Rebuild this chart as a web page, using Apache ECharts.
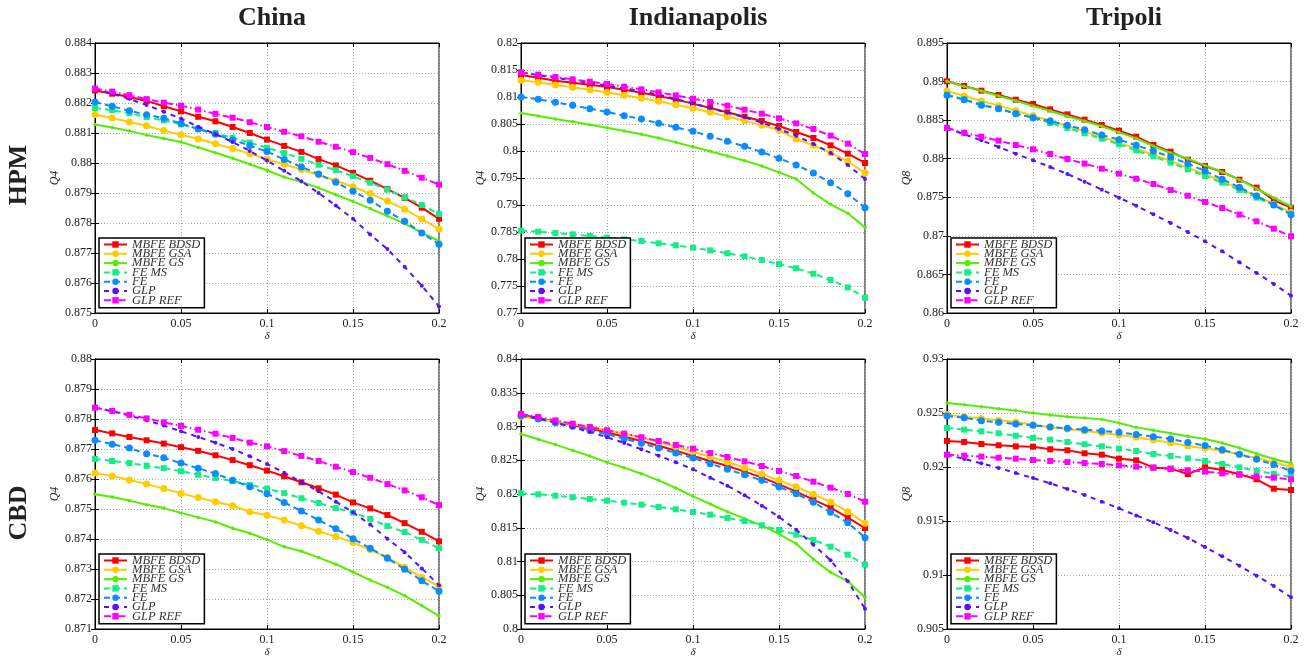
<!DOCTYPE html>
<html>
<head>
<meta charset="utf-8">
<script src="https://cdn.jsdelivr.net/npm/echarts@6/dist/echarts.min.js"></script>
<style>
  html, body { margin: 0; padding: 0; background: #fff; }
  #main { width: 1308px; height: 660px; }
</style>
</head>
<body>
<div id="main"></div>
<script>
// delta values on the x axis
var delta = [0, 0.01, 0.02, 0.03, 0.04, 0.05, 0.06, 0.07, 0.08, 0.09, 0.1,
             0.11, 0.12, 0.13, 0.14, 0.15, 0.16, 0.17, 0.18, 0.19, 0.2];

var methods = ['MBFE BDSD', 'MBFE GSA', 'MBFE GS', 'FE MS', 'FE', 'GLP', 'GLP REF'];
var columns = ['China', 'Indianapolis', 'Tripoli'];
var rowLabels = ['HPM', 'CBD'];
var yNames = ['Q4', 'Q4', 'Q8', 'Q4', 'Q4', 'Q8'];

// y axis ranges [min, max, interval]
var yRanges = [
  [0.875, 0.884, 0.001],
  [0.77, 0.82, 0.005],
  [0.86, 0.895, 0.005],
  [0.871, 0.88, 0.001],
  [0.8, 0.84, 0.005],
  [0.905, 0.93, 0.005]
];

// one row per method, same order as methods
var chinaHpm = [
  [0.88242, 0.88231, 0.8822, 0.88207, 0.88189, 0.88172, 0.88154, 0.88139, 0.8812, 0.8810, 0.88078, 0.88057, 0.88037, 0.88013, 0.87992, 0.87967, 0.87941, 0.87913, 0.87884, 0.87851, 0.87814],
  [0.88162, 0.8815, 0.88137, 0.88124, 0.88108, 0.88094, 0.8808, 0.88064, 0.88048, 0.88031, 0.88013, 0.87996, 0.87978, 0.8796, 0.87941, 0.87921, 0.87898, 0.87873, 0.87846, 0.87813, 0.8778],
  [0.88128, 0.88118, 0.88107, 0.88093, 0.88082, 0.8807, 0.88052, 0.88034, 0.88016, 0.87996, 0.87976, 0.87953, 0.87937, 0.87917, 0.87894, 0.87872, 0.87848, 0.87823, 0.87798, 0.87768, 0.8774],
  [0.88183, 0.88176, 0.88166, 0.88153, 0.88142, 0.88129, 0.88114, 0.881, 0.88084, 0.88068, 0.88051, 0.88033, 0.88014, 0.87994, 0.87976, 0.87956, 0.87934, 0.87911, 0.87886, 0.8786, 0.8783],
  [0.88203, 0.88189, 0.88174, 0.88161, 0.88149, 0.88132, 0.88113, 0.88096, 0.88077, 0.88058, 0.88038, 0.88012, 0.87987, 0.87963, 0.87936, 0.87906, 0.87876, 0.87839, 0.87806, 0.87767, 0.87729],
  [0.88248, 0.88231, 0.88214, 0.88193, 0.88171, 0.88148, 0.88121, 0.88096, 0.8807, 0.8804, 0.88008, 0.87974, 0.87939, 0.879, 0.87858, 0.87814, 0.87762, 0.87713, 0.87654, 0.87591, 0.87522],
  [0.88248, 0.88238, 0.88226, 0.88213, 0.88201, 0.88191, 0.88178, 0.88164, 0.88151, 0.88136, 0.8812, 0.88104, 0.88089, 0.88071, 0.88054, 0.88036, 0.88017, 0.87996, 0.87974, 0.87951, 0.87928]
];

var indyHpm = [
  [0.81407, 0.81358, 0.81302, 0.81265, 0.81228, 0.81185, 0.81136, 0.8108, 0.81019, 0.80951, 0.80877, 0.80796, 0.80716, 0.80636, 0.80556, 0.80463, 0.80352, 0.80241, 0.80105, 0.79951, 0.79778],
  [0.81309, 0.81272, 0.81222, 0.81179, 0.81136, 0.81086, 0.81031, 0.80975, 0.8092, 0.80858, 0.8079, 0.80716, 0.80636, 0.80562, 0.80475, 0.80383, 0.80222, 0.80105, 0.79969, 0.79809, 0.79593],
  [0.80704, 0.80648, 0.80593, 0.80543, 0.80488, 0.80432, 0.8037, 0.80309, 0.80241, 0.8016, 0.8008, 0.79994, 0.79907, 0.79821, 0.79722, 0.79605, 0.79481, 0.79222, 0.79012, 0.78846, 0.78586],
  [0.78525, 0.78506, 0.78481, 0.78457, 0.78426, 0.78395, 0.78364, 0.78333, 0.7829, 0.78253, 0.7821, 0.7816, 0.78105, 0.78049, 0.77981, 0.77907, 0.77827, 0.77728, 0.77611, 0.77475, 0.77284],
  [0.81, 0.80957, 0.80901, 0.80846, 0.80784, 0.80722, 0.80654, 0.80593, 0.80512, 0.80438, 0.80364, 0.80272, 0.80179, 0.80086, 0.79981, 0.79864, 0.79741, 0.79593, 0.79414, 0.7921, 0.78951],
  [0.81451, 0.81407, 0.81358, 0.81309, 0.81259, 0.8121, 0.8116, 0.81105, 0.81043, 0.80963, 0.80883, 0.80796, 0.8071, 0.80623, 0.80525, 0.80407, 0.80284, 0.8013, 0.79963, 0.79741, 0.79481],
  [0.81457, 0.81414, 0.8137, 0.81327, 0.81284, 0.81241, 0.81191, 0.81142, 0.81086, 0.81031, 0.80969, 0.80907, 0.8084, 0.80765, 0.80691, 0.80605, 0.80512, 0.80407, 0.80284, 0.80136, 0.79944]
];

var tripoliHpm = [
  [0.89003, 0.88943, 0.88882, 0.88826, 0.88765, 0.88709, 0.8864, 0.88575, 0.88506, 0.88437, 0.88364, 0.88286, 0.88178, 0.88091, 0.87988, 0.87906, 0.87828, 0.87728, 0.87625, 0.87461, 0.87365],
  [0.88878, 0.88813, 0.88748, 0.88688, 0.88623, 0.88558, 0.88493, 0.88424, 0.88355, 0.88281, 0.88208, 0.8813, 0.88052, 0.8797, 0.87884, 0.87798, 0.87707, 0.87612, 0.87517, 0.87409, 0.87305],
  [0.89003, 0.88938, 0.88878, 0.88813, 0.88752, 0.88683, 0.88619, 0.8855, 0.88489, 0.8842, 0.88342, 0.88264, 0.88165, 0.88074, 0.88001, 0.87914, 0.87828, 0.87728, 0.87612, 0.87495, 0.87383],
  [0.8883, 0.8877, 0.88705, 0.88649, 0.88588, 0.88532, 0.88463, 0.88398, 0.88329, 0.8826, 0.88186, 0.88109, 0.88031, 0.87949, 0.87863, 0.87776, 0.8769, 0.87594, 0.87495, 0.874, 0.87288],
  [0.88822, 0.88765, 0.88692, 0.88649, 0.88584, 0.88532, 0.88489, 0.88433, 0.88377, 0.88307, 0.88247, 0.88173, 0.881, 0.88022, 0.87936, 0.87841, 0.87733, 0.87629, 0.87517, 0.874, 0.87275],
  [0.88398, 0.88316, 0.88238, 0.88152, 0.88065, 0.87979, 0.87893, 0.87802, 0.87702, 0.87599, 0.87495, 0.87391, 0.87279, 0.87167, 0.8705, 0.86929, 0.86799, 0.86657, 0.86519, 0.86376, 0.86225],
  [0.88398, 0.88338, 0.88286, 0.88234, 0.88178, 0.88122, 0.88061, 0.87996, 0.87936, 0.87871, 0.87806, 0.87741, 0.87672, 0.87594, 0.8752, 0.87439, 0.87361, 0.87275, 0.87188, 0.87093, 0.86994]
];

var chinaCbd = [
  [0.87763, 0.87752, 0.8774, 0.87729, 0.87718, 0.87706, 0.87694, 0.87679, 0.87663, 0.87646, 0.87628, 0.87609, 0.87589, 0.87569, 0.87548, 0.87522, 0.87502, 0.8748, 0.87453, 0.87424, 0.87392],
  [0.8762, 0.8761, 0.87597, 0.87583, 0.87568, 0.87552, 0.87538, 0.87524, 0.87511, 0.87491, 0.87479, 0.87463, 0.87444, 0.87426, 0.87408, 0.87388, 0.87364, 0.87339, 0.87306, 0.87272, 0.87242],
  [0.87549, 0.8754, 0.87528, 0.87514, 0.87503, 0.87487, 0.87472, 0.87457, 0.87436, 0.87419, 0.87398, 0.87374, 0.87359, 0.87338, 0.87316, 0.8729, 0.87263, 0.87239, 0.87211, 0.87178, 0.87143],
  [0.87667, 0.8766, 0.87653, 0.87644, 0.87636, 0.87626, 0.87614, 0.87603, 0.87593, 0.8758, 0.87568, 0.87553, 0.87536, 0.8752, 0.87503, 0.87488, 0.87467, 0.87443, 0.87423, 0.87397, 0.87369],
  [0.87729, 0.87716, 0.87703, 0.87684, 0.87671, 0.87653, 0.87636, 0.87618, 0.87596, 0.87574, 0.87551, 0.87522, 0.87493, 0.87463, 0.87434, 0.87401, 0.87369, 0.87336, 0.87299, 0.87261, 0.87226],
  [0.87838, 0.87826, 0.87811, 0.87796, 0.87778, 0.87759, 0.8774, 0.87721, 0.877, 0.87676, 0.8765, 0.87621, 0.8759, 0.87559, 0.87524, 0.87489, 0.87448, 0.87401, 0.87356, 0.87302, 0.87246],
  [0.87838, 0.87827, 0.87814, 0.87802, 0.87789, 0.87777, 0.87764, 0.87751, 0.87737, 0.87721, 0.87709, 0.87693, 0.87677, 0.8766, 0.87641, 0.87623, 0.87604, 0.87583, 0.87562, 0.87539, 0.87513]
];

var indyCbd = [
  [0.83175, 0.83126, 0.83072, 0.83017, 0.82968, 0.82914, 0.82849, 0.82785, 0.82716, 0.82642, 0.82563, 0.82489, 0.82415, 0.82331, 0.82247, 0.82143, 0.82035, 0.81916, 0.81798, 0.8165, 0.81496],
  [0.83146, 0.83116, 0.83072, 0.83032, 0.82988, 0.82943, 0.82894, 0.82835, 0.8277, 0.82701, 0.82627, 0.82553, 0.82474, 0.8239, 0.82296, 0.82202, 0.82109, 0.81995, 0.81881, 0.81738, 0.81565],
  [0.82889, 0.8281, 0.82731, 0.82647, 0.82563, 0.82469, 0.8239, 0.82301, 0.82202, 0.82089, 0.81965, 0.81852, 0.81738, 0.81635, 0.81536, 0.81407, 0.81264, 0.81032, 0.8084, 0.80706, 0.80469],
  [0.8201, 0.81995, 0.81975, 0.81951, 0.81926, 0.81901, 0.81872, 0.81842, 0.81807, 0.81773, 0.81733, 0.81694, 0.81644, 0.816, 0.81536, 0.81467, 0.81398, 0.81319, 0.8122, 0.81101, 0.80953],
  [0.8316, 0.83111, 0.83057, 0.83002, 0.82943, 0.82884, 0.8282, 0.82751, 0.82681, 0.82607, 0.82533, 0.82449, 0.82365, 0.82286, 0.82202, 0.82104, 0.82005, 0.81877, 0.81728, 0.81575, 0.81353],
  [0.83175, 0.83121, 0.83057, 0.82988, 0.82919, 0.8284, 0.82756, 0.82662, 0.82568, 0.82469, 0.82365, 0.82242, 0.82123, 0.8198, 0.81827, 0.81659, 0.81472, 0.81249, 0.81017, 0.80706, 0.80301],
  [0.83185, 0.83141, 0.83091, 0.83042, 0.82993, 0.82943, 0.82894, 0.8284, 0.82785, 0.82726, 0.82672, 0.82607, 0.82548, 0.82484, 0.82415, 0.82341, 0.82267, 0.82183, 0.82094, 0.82, 0.81886]
];

var tripoliCbd = [
  [0.92241, 0.92231, 0.92213, 0.92201, 0.92191, 0.92188, 0.92164, 0.92154, 0.92127, 0.92114, 0.92077, 0.92062, 0.91994, 0.91985, 0.91935, 0.91997, 0.91972, 0.91932, 0.91886, 0.91799, 0.91787],
  [0.92485, 0.92466, 0.92448, 0.92432, 0.92417, 0.92392, 0.9237, 0.92352, 0.92333, 0.92315, 0.92296, 0.92275, 0.9225, 0.92225, 0.92194, 0.92173, 0.92148, 0.92117, 0.92083, 0.92043, 0.92003],
  [0.92593, 0.92577, 0.92559, 0.9254, 0.92522, 0.925, 0.92481, 0.92466, 0.92454, 0.92441, 0.92407, 0.92367, 0.9234, 0.92312, 0.92284, 0.92259, 0.92222, 0.92176, 0.92123, 0.92074, 0.92034],
  [0.92361, 0.92346, 0.9233, 0.92312, 0.9229, 0.92269, 0.92253, 0.92231, 0.9221, 0.92191, 0.9217, 0.92148, 0.9212, 0.92102, 0.9208, 0.92056, 0.92028, 0.91997, 0.91966, 0.91935, 0.91907],
  [0.92472, 0.92457, 0.92429, 0.92414, 0.92398, 0.92386, 0.9237, 0.92358, 0.92346, 0.92333, 0.92321, 0.92302, 0.92281, 0.92259, 0.92228, 0.92198, 0.9216, 0.92117, 0.92071, 0.92022, 0.91963],
  [0.92114, 0.92074, 0.92034, 0.91991, 0.91944, 0.91898, 0.91849, 0.91796, 0.91741, 0.91679, 0.91617, 0.91552, 0.91488, 0.91417, 0.91343, 0.91259, 0.91173, 0.91086, 0.90994, 0.90898, 0.90793],
  [0.92114, 0.92105, 0.92096, 0.92086, 0.92077, 0.92065, 0.92056, 0.92046, 0.92037, 0.92028, 0.92015, 0.92003, 0.91994, 0.91981, 0.91969, 0.91957, 0.91941, 0.91929, 0.91914, 0.91901, 0.91886]
];

var panels = [chinaHpm, indyHpm, tripoliHpm, chinaCbd, indyCbd, tripoliCbd];

// line style per method
var styles = [
  { color: '#ff0000', type: 'solid',        symbol: 'rect',   size: 6 },
  { color: '#ffcc00', type: 'solid',        symbol: 'circle', size: 7 },
  { color: '#55ee00', type: 'solid',        symbol: 'circle', size: 3.5 },
  { color: '#11ee88', type: [6, 4],         symbol: 'rect',   size: 6 },
  { color: '#0a8cff', type: [6, 4],         symbol: 'circle', size: 7 },
  { color: '#5511ff', type: [5, 5],         symbol: 'circle', size: 4 },
  { color: '#ff00ff', type: [7, 3, 1.5, 3], symbol: 'rect',   size: 6 }
];

(function () {
  var serif = 'Liberation Serif';
  var gridLefts = [95, 521, 947];
  var gridTops = [43, 359];
  var gridW = 344, gridH = 270;

  function fmt(v) {
    return String(parseFloat(v.toFixed(4)));
  }

  var myChart = echarts.init(document.getElementById('main'));

  var option = {
    animation: false,
    backgroundColor: '#fff',
    title: [],
    grid: [],
    xAxis: [],
    yAxis: [],
    legend: [],
    series: []
  };

  // column titles
  for (var c = 0; c < 3; c++) {
    option.title.push({
      text: columns[c],
      left: gridLefts[c] + gridW / 2,
      top: 0,
      textAlign: 'center',
      textStyle: { fontFamily: serif, fontSize: 26, fontWeight: 'bold', color: '#222' }
    });
  }

  for (var p = 0; p < 6; p++) {
    var gl = gridLefts[p % 3], gt = gridTops[Math.floor(p / 3)];
    var r = yRanges[p];

    option.grid.push({
      left: gl, top: gt, width: gridW, height: gridH,
      show: true, borderColor: '#000', borderWidth: 1, backgroundColor: '#fff'
    });

    // bottom x axis
    option.xAxis.push({
      type: 'value', gridIndex: p, min: 0, max: 0.2, interval: 0.05,
      name: 'δ', nameLocation: 'middle', nameGap: 16,
      nameTextStyle: { fontFamily: serif, fontStyle: 'italic', fontSize: 11, color: '#222' },
      axisLine: { show: true, lineStyle: { color: '#000', width: 1 } },
      axisTick: { show: true, inside: true, length: 4, lineStyle: { color: '#000' } },
      axisLabel: { fontFamily: serif, fontSize: 12, color: '#222', margin: 5, formatter: fmt },
      splitLine: { show: true, lineStyle: { color: '#aaa', type: [1, 2], width: 1 } }
    });
    // top x axis, ticks only
    option.xAxis.push({
      type: 'value', gridIndex: p, min: 0, max: 0.2, interval: 0.05, position: 'top',
      axisLine: { show: true, lineStyle: { color: '#000', width: 1 } },
      axisTick: { show: true, inside: true, length: 4, lineStyle: { color: '#000' } },
      axisLabel: { show: false },
      splitLine: { show: false }
    });
    // left y axis
    option.yAxis.push({
      type: 'value', gridIndex: p, min: r[0], max: r[1], interval: r[2],
      name: yNames[p], nameLocation: 'middle', nameGap: 31, nameRotate: 90,
      nameTextStyle: { fontFamily: serif, fontStyle: 'italic', fontSize: 12, color: '#222' },
      axisLine: { show: true, lineStyle: { color: '#000', width: 1 } },
      axisTick: { show: true, inside: true, length: 4, lineStyle: { color: '#000' } },
      axisLabel: { fontFamily: serif, fontSize: 12, color: '#222', margin: 3, formatter: fmt },
      splitLine: { show: true, lineStyle: { color: '#aaa', type: [1, 2], width: 1 } }
    });
    // right y axis, ticks only
    option.yAxis.push({
      type: 'value', gridIndex: p, min: r[0], max: r[1], interval: r[2], position: 'right',
      axisLine: { show: true, lineStyle: { color: '#000', width: 1 } },
      axisTick: { show: true, inside: true, length: 4, lineStyle: { color: '#000' } },
      axisLabel: { show: false },
      splitLine: { show: false }
    });

    option.legend.push({
      data: methods.slice(),
      orient: 'vertical',
      left: gl + 4,
      top: gt + gridH - 4 - 71,
      itemWidth: 23,
      itemHeight: 8,
      itemGap: -3.7,
      padding: [0, 4, 1, 4],
      borderColor: '#000',
      borderWidth: 1.5,
      backgroundColor: '#fff',
      selectedMode: false,
      textStyle: { fontFamily: serif, fontStyle: 'italic', fontSize: 12.5, color: '#333' },
      z: 10
    });

    var vals = panels[p];
    for (var m = 0; m < methods.length; m++) {
      var st = styles[m];
      var pts = [];
      for (var i = 0; i < delta.length; i++) {
        pts.push([delta[i], vals[m][i]]);
      }
      option.series.push({
        name: methods[m],
        type: 'line',
        xAxisIndex: p * 2,
        yAxisIndex: p * 2,
        data: pts,
        symbol: st.symbol,
        symbolSize: st.size,
        showAllSymbol: true,
        itemStyle: { color: st.color },
        lineStyle: { color: st.color, width: 2, type: st.type },
        z: 2 + m
      });
    }
  }

  // row labels on the left
  option.graphic = [];
  for (var k = 0; k < 2; k++) {
    option.graphic.push({
      type: 'text', x: 19, y: gridTops[k] + gridH / 2 + (k === 0 ? -3 : 19), rotation: Math.PI / 2,
      style: {
        text: rowLabels[k], fontFamily: serif, fontSize: 26, fontWeight: 'bold',
        fill: '#222', align: 'center', verticalAlign: 'middle'
      }
    });
  }

  myChart.setOption(option);
})();
</script>
</body>
</html>
